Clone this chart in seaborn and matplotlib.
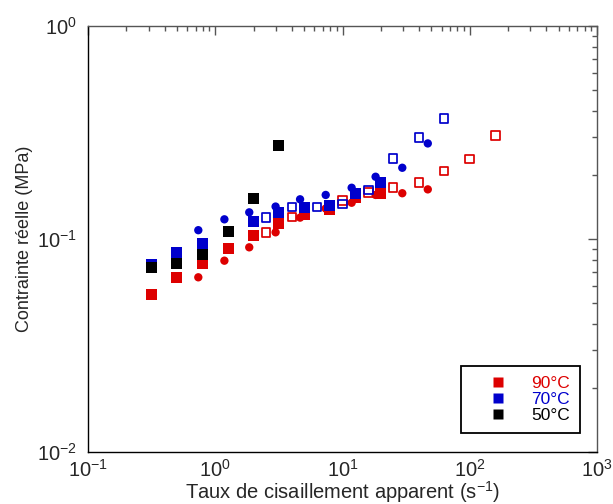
import matplotlib
matplotlib.use("Agg")
import matplotlib.pyplot as plt
from matplotlib.lines import Line2D
from matplotlib.ticker import LogLocator, NullFormatter
import seaborn as sns

sns.set_style("white")
plt.rcParams["font.family"] = ["Liberation Sans", "DejaVu Sans"]
plt.rcParams["mathtext.fontset"] = "custom"
plt.rcParams["mathtext.rm"] = "Liberation Sans"
plt.rcParams["mathtext.it"] = "Liberation Sans:italic"
plt.rcParams["axes.unicode_minus"] = False

RED = "#dd0000"
BLUE = "#0000cc"
BLACK = "#000000"

# Filled squares
rate_sq = [0.316, 0.5, 0.79, 1.26, 2.0, 3.16, 5.0, 7.9, 12.6, 20.0]
stress_sq_90 = [0.055, 0.066, 0.077, 0.090, 0.104, 0.118, 0.130, 0.137, 0.156, 0.164]
rate_sq_70 = [0.316, 0.5, 0.79, 2.0, 3.16, 5.0, 7.9, 12.6, 20.0]
stress_sq_70 = [0.0758, 0.0866, 0.0954, 0.121, 0.1334, 0.140, 0.1433, 0.164, 0.1846]
rate_sq_50 = [0.316, 0.5, 0.79, 1.26, 2.0, 3.16]
stress_sq_50 = [0.0731, 0.0769, 0.0848, 0.109, 0.155, 0.274]

# Filled circles
rate_ci = [0.736, 1.18, 1.85, 2.98, 4.64, 7.38, 11.8, 18.2, 29.5, 46.8]
stress_ci_90 = [0.0661, 0.0791, 0.0914, 0.1075, 0.126, 0.139, 0.148, 0.161, 0.164, 0.171]
stress_ci_70 = [0.110, 0.1237, 0.1334, 0.142, 0.1536, 0.161, 0.174, 0.196, 0.216, 0.281]

# Open squares
rate_op_90 = [2.5, 4.0, 10.0, 16.0, 25.0, 40.0, 63.0, 100.0, 160.0]
stress_op_90 = [0.1075, 0.127, 0.152, 0.165, 0.175, 0.1846, 0.209, 0.2375, 0.307]
rate_op_70 = [2.5, 4.0, 6.3, 10.0, 16.0, 25.0, 40.0, 63.0]
stress_op_70 = [0.126, 0.141, 0.141, 0.146, 0.170, 0.239, 0.300, 0.369]

legend_labels = ["90°C", "70°C", "50°C"]
legend_colors = [RED, BLUE, BLACK]

fig = plt.figure(figsize=(6.13, 5.04), dpi=100)
ax = fig.add_axes([88 / 613, 1 - 452 / 504, 509 / 613, 426 / 504])

SQ, CI, OP = 63, 36, 38


def filled(x, y, color, marker, size):
    sns.scatterplot(x=x, y=y, ax=ax, color=color, marker=marker, s=size,
                    edgecolor="none", linewidth=0, zorder=3)


def hollow(x, y, color):
    sns.scatterplot(x=x, y=y, ax=ax, color=color, marker="s", s=OP,
                    facecolor="none", edgecolor=color, linewidth=1.25, zorder=3)


# 90 °C
filled(rate_sq, stress_sq_90, RED, "s", SQ)
filled(rate_ci, stress_ci_90, RED, "o", CI)
hollow(rate_op_90, stress_op_90, RED)
# 70 °C
filled(rate_sq_70, stress_sq_70, BLUE, "s", SQ)
filled(rate_ci, stress_ci_70, BLUE, "o", CI)
hollow(rate_op_70, stress_op_70, BLUE)
# 50 °C
filled(rate_sq_50, stress_sq_50, BLACK, "s", SQ)

ax.set_xscale("log")
ax.set_yscale("log")
ax.set_xlim(0.1, 1000)
ax.set_ylim(0.01, 1)

ax.xaxis.set_major_locator(LogLocator(base=10, numticks=10))
ax.xaxis.set_minor_locator(LogLocator(base=10, subs=range(2, 10), numticks=20))
ax.yaxis.set_major_locator(LogLocator(base=10, numticks=10))
ax.yaxis.set_minor_locator(LogLocator(base=10, subs=range(2, 10), numticks=20))
ax.xaxis.set_minor_formatter(NullFormatter())
ax.yaxis.set_minor_formatter(NullFormatter())

ax.tick_params(which="both", direction="in", top=True, right=True,
               color="#555555", width=1.0)
ax.tick_params(which="major", length=6.5, labelsize=14.5, pad=5)
ax.tick_params(which="minor", length=3.5)
ax.tick_params(axis="y", which="major", pad=8)

for sp in ax.spines.values():
    sp.set_color("black")
    sp.set_linewidth(1.0)
ax.spines["right"].set_color("#555555")
ax.spines["top"].set_color("#555555")

ax.set_xlabel(r"Taux de cisaillement apparent (s$^{\mathrm{-1}}$)", fontsize=14.5, labelpad=-1)
ax.set_ylabel("Contrainte réelle (MPa)", fontsize=13, labelpad=3)

handles = [Line2D([], [], linestyle="none", marker="s", markersize=7.5,
                  markerfacecolor=c, markeredgecolor="none") for c in legend_colors]
leg = ax.legend(handles, legend_labels, loc="lower right",
                bbox_to_anchor=(0.9666, 0.0439), borderaxespad=0,
                fontsize=12.5, labelcolor=legend_colors, frameon=True,
                fancybox=False, edgecolor="black", framealpha=1,
                handlelength=3.1, handletextpad=0.33, borderpad=0.6,
                labelspacing=0.04)
leg.get_frame().set_linewidth(1.3)

fig.savefig("out.png", dpi=100)
